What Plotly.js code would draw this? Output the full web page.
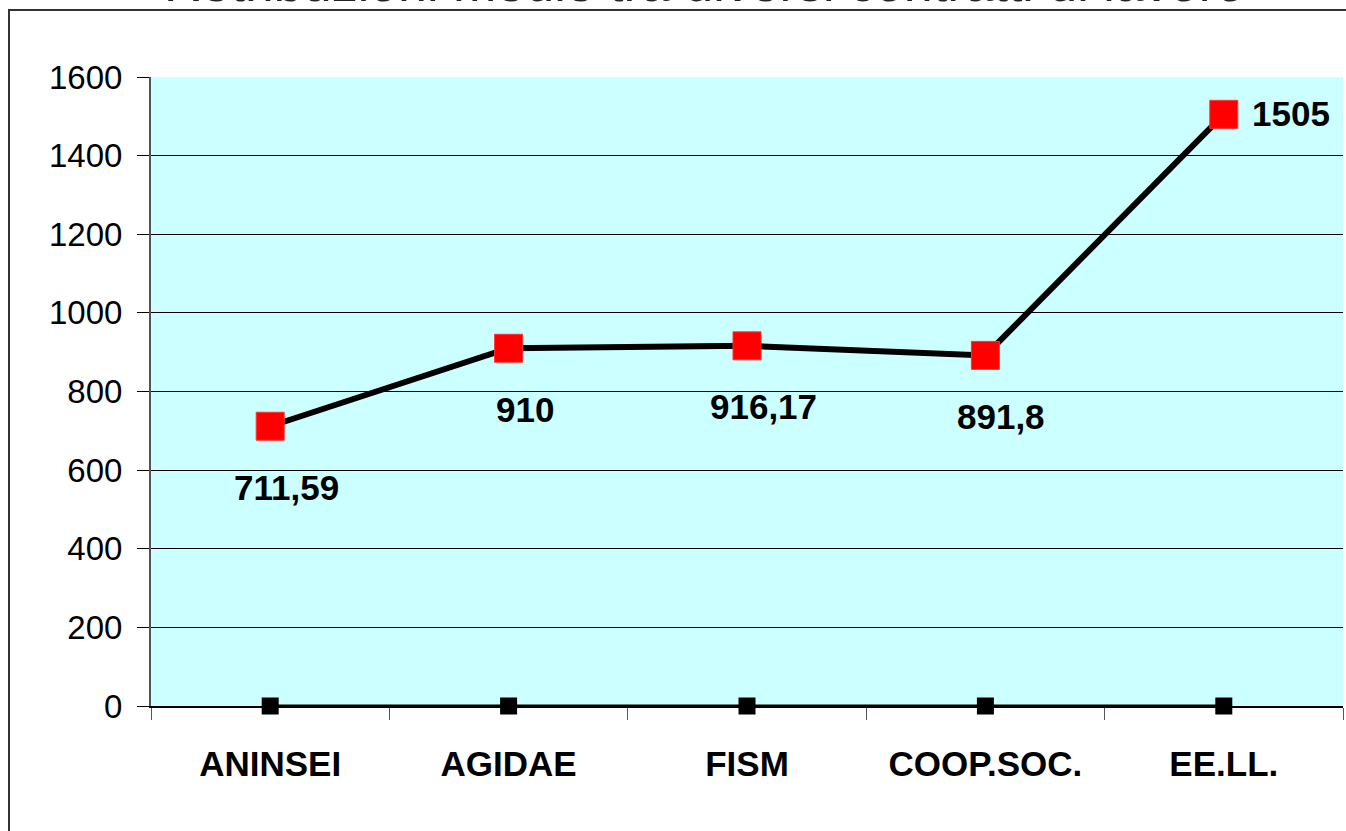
<!DOCTYPE html>
<html>
<head>
<meta charset="utf-8">
<script src="https://cdn.plot.ly/plotly-3.0.1.min.js"></script>
<style>
  html, body { margin: 0; padding: 0; background: #fff; }
  #chart { width: 1346px; height: 831px; }
</style>
</head>
<body>
<div id="chart"></div>
<script>
const categories = ["ANINSEI", "AGIDAE", "FISM", "COOP.SOC.", "EE.LL."];
const salaryValues = [711.59, 910, 916.17, 891.8, 1505];
const salaryLabels = ["711,59", "910", "916,17", "891,8", "1505"];
const baseValues = [0, 0, 0, 0, 0];
const yTicks = [0, 200, 400, 600, 800, 1000, 1200, 1400, 1600];
const titleText = "Retribuzioni medie tra diversi contratti di lavoro";

const FONT = "Liberation Sans, Arial, sans-serif";

const traces = [
  {
    x: categories, y: baseValues, type: "scatter", mode: "lines+markers",
    line: { color: "#000", width: 3 },
    marker: { symbol: "square", size: 17, color: "#000" },
    cliponaxis: false, hoverinfo: "skip", showlegend: false
  },
  {
    x: categories, y: salaryValues, type: "scatter", mode: "lines+markers",
    line: { color: "#000", width: 6 },
    marker: { symbol: "square", size: 28, color: "#ff0000", line: { color: "#ff3333", width: 1 } },
    cliponaxis: false, showlegend: false
  }
];

const lastIdx = salaryValues.length - 1;
const annotations = salaryValues.map((v, i) => {
  const isLast = i === lastIdx;
  return {
    x: categories[i], y: v, xref: "x", yref: "y",
    text: "<b>" + salaryLabels[i] + "</b>",
    showarrow: false,
    font: { family: FONT, size: 35, color: "#000" },
    xanchor: isLast ? "left" : "center",
    yanchor: "middle",
    xshift: isLast ? 26 : 16,
    yshift: isLast ? 1 : -61
  };
});

annotations.push({
  xref: "paper", yref: "paper", x: 0.464, y: 1 + (77 - 14) / 629, xanchor: "center", yanchor: "bottom",
  text: titleText, showarrow: false,
  font: { family: FONT, size: 52, color: "#222" }
});

const layout = {
  width: 1346, height: 831,
  margin: { l: 151, r: 3, t: 77, b: 125 },
  paper_bgcolor: "#ffffff",
  plot_bgcolor: "#ccffff",
  font: { family: FONT, color: "#000" },
  xaxis: {
    type: "category", range: [-0.5, 4.5],
    tickson: "boundaries", ticks: "outside", ticklen: 12, tickcolor: "#555", tickwidth: 1,
    showgrid: false, showline: true, linecolor: "#000", linewidth: 2,
    tickfont: { family: FONT, size: 35, color: "#000", weight: "bold" },
    tickangle: 0, ticklabelstandoff: 26,
    zeroline: false, fixedrange: true
  },
  yaxis: {
    range: [0, 1600], tickvals: yTicks, ticktext: yTicks.map(String),
    ticks: "outside", ticklen: 12, tickcolor: "#000", tickwidth: 1,
    showgrid: true, gridcolor: "#000", gridwidth: 1,
    showline: true, linecolor: "#555", linewidth: 2,
    tickfont: { family: FONT, size: 33, color: "#000" },
    ticklabelstandoff: 8,
    zeroline: false, fixedrange: true
  },
  shapes: [
    {
      type: "rect", xref: "paper", yref: "paper",
      x0: (9 - 151) / 1192, x1: 1.05, y0: -0.4, y1: 1 + (77 - 10) / 629,
      line: { color: "#333", width: 2 }, fillcolor: "rgba(0,0,0,0)", layer: "below"
    }
  ],
  annotations: annotations,
  showlegend: false
};

Plotly.newPlot("chart", traces, layout, { displayModeBar: false, staticPlot: true });
</script>
</body>
</html>
